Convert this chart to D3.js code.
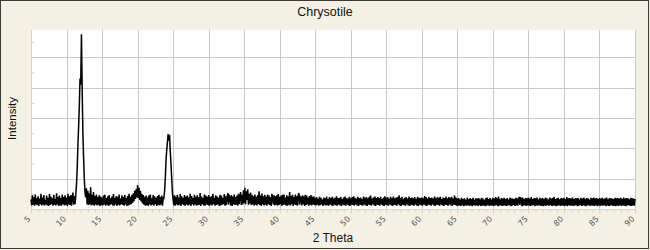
<!DOCTYPE html>
<html>
<head>
<meta charset="utf-8">
<script src="https://cdn.jsdelivr.net/npm/d3@7"></script>
<style>
  body { margin: 0; background: #f4f1e4; }
  svg { display: block; }
</style>
</head>
<body>
<div id="chart"></div>
<script>
// scan: 5.0 to 90.0 deg 2theta, step 0.1, counts
let scanStart = 5, scanStep = 0.1

let c05 = [
  320, 120, 450, 140, 390, 110, 480, 150, 360, 130,
  420, 100, 340, 160, 500, 120, 380, 140, 460, 110,
  300, 150, 440, 120, 370, 100, 490, 130, 410, 160,
  350, 110, 470, 140, 330, 120, 520, 150, 400, 100,
  440, 130, 360, 110, 480, 160, 390, 120, 450, 140,
  370, 100, 500, 150, 420, 130, 460, 110, 380, 540,
  140, 430, 160, 450, 800, 1300, 2100, 2700, 3400, 4300,
  4100, 5760, 4000, 2500, 1700, 1000, 550, 380, 680, 150,
  600, 130, 520, 160, 720, 120, 470, 140, 560, 110,
  430, 150, 480, 120, 390, 140, 450, 100, 410, 130]
let c15 = [
  380, 120, 440, 150, 470, 110, 360, 140, 420, 100,
  460, 130, 350, 160, 410, 120, 490, 110, 370, 150,
  430, 100, 400, 140, 480, 120, 340, 160, 450, 130,
  390, 110, 460, 150, 360, 100, 430, 120, 500, 140,
  400, 160, 470, 200, 520, 260, 600, 330, 650, 380,
  790, 360, 700, 300, 600, 250, 500, 180, 460, 140,
  400, 110, 440, 130, 380, 100, 450, 150, 480, 120,
  350, 140, 460, 110, 410, 160, 370, 100, 430, 130,
  470, 120, 390, 150, 440, 110, 360, 350, 600, 1000,
  1600, 1950, 2200, 2470, 2250, 2450, 1900, 1500, 1000, 550]
let c25 = [
  300, 130, 450, 110, 400, 150, 470, 120, 380, 140,
  490, 100, 420, 160, 370, 130, 460, 110, 410, 150,
  440, 120, 380, 140, 500, 100, 430, 160, 360, 120,
  470, 150, 400, 110, 450, 130, 390, 140, 530, 100,
  420, 160, 360, 120, 480, 110, 440, 150, 400, 130,
  460, 100, 390, 140, 430, 120, 500, 160, 370, 110,
  450, 130, 410, 150, 380, 100, 470, 120, 440, 140,
  360, 160, 490, 110, 420, 130, 400, 520, 150, 430,
  380, 120, 460, 100, 410, 150, 480, 130, 390, 140,
  440, 110, 500, 160, 420, 560, 130, 470, 150, 620]
let c35 = [
  200, 700, 160, 580, 300, 650, 140, 500, 180, 540,
  130, 470, 150, 420, 110, 480, 140, 400, 120, 450,
  160, 580, 130, 440, 100, 510, 150, 420, 120, 470,
  140, 410, 110, 480, 160, 440, 130, 390, 100, 500,
  360, 150, 460, 120, 420, 140, 450, 110, 490, 130,
  400, 160, 440, 100, 470, 130, 480, 150, 380, 120,
  450, 110, 410, 140, 560, 120, 430, 160, 470, 100,
  390, 150, 480, 130, 420, 110, 460, 530, 140, 400,
  370, 120, 450, 160, 410, 100, 470, 130, 440, 150,
  380, 110, 430, 140, 460, 120, 400, 150, 420, 130]
let c45 = [
  360, 120, 390, 140, 340, 110, 400, 130, 370, 150,
  310, 100, 380, 140, 350, 120, 410, 130, 330, 110,
  390, 150, 360, 120, 400, 100, 340, 140, 380, 130,
  420, 110, 350, 150, 370, 120, 390, 100, 330, 140,
  380, 130, 410, 110, 360, 150, 340, 120, 400, 100,
  350, 140, 390, 130, 420, 110, 370, 150, 340, 120,
  400, 100, 360, 140, 380, 130, 330, 110, 410, 150,
  370, 120, 390, 100, 350, 140, 400, 130, 440, 110,
  340, 150, 380, 120, 410, 100, 360, 140, 390, 130,
  350, 110, 400, 150, 330, 120, 380, 100, 420, 140]
let c55 = [
  370, 130, 390, 110, 340, 150, 400, 120, 360, 100,
  410, 140, 350, 130, 380, 110, 390, 150, 450, 120,
  360, 100, 400, 140, 330, 130, 370, 110, 390, 150,
  340, 120, 410, 100, 360, 140, 380, 130, 350, 110,
  390, 150, 330, 120, 400, 100, 370, 140, 360, 130,
  380, 110, 350, 150, 430, 120, 390, 100, 340, 140,
  400, 130, 360, 110, 380, 150, 340, 120, 410, 100,
  350, 140, 390, 130, 370, 110, 400, 150, 330, 120,
  380, 100, 360, 140, 410, 130, 350, 110, 390, 150,
  370, 120, 400, 100, 340, 140, 440, 130, 380, 110]
let c65 = [
  340, 110, 360, 120, 310, 100, 370, 130, 330, 90,
  350, 120, 300, 110, 380, 130, 320, 100, 360, 120,
  330, 90, 370, 130, 310, 110, 350, 120, 340, 100,
  360, 130, 320, 100, 370, 110, 340, 120, 300, 90,
  350, 110, 380, 130, 330, 100, 360, 120, 310, 110,
  370, 100, 340, 120, 390, 130, 350, 90, 410, 110,
  320, 130, 360, 100, 340, 110, 370, 120, 330, 100,
  360, 120, 310, 130, 380, 90, 350, 110, 340, 130,
  330, 100, 370, 120, 350, 110, 320, 400, 130, 360,
  340, 90, 380, 110, 330, 130, 360, 100, 350, 120]
let c75 = [
  370, 110, 340, 100, 390, 120, 330, 130, 360, 90,
  350, 120, 380, 110, 320, 130, 370, 100, 340, 110,
  360, 90, 330, 120, 380, 100, 350, 130, 310, 110,
  380, 130, 340, 100, 360, 110, 400, 120, 330, 90,
  350, 110, 370, 130, 320, 100, 360, 120, 340, 110,
  370, 100, 330, 120, 390, 90, 350, 130, 360, 110,
  340, 120, 380, 100, 330, 110, 360, 130, 350, 90,
  360, 110, 320, 130, 370, 100, 340, 120, 380, 110,
  330, 90, 360, 120, 350, 130, 310, 100, 370, 120,
  350, 110, 380, 100, 340, 130, 360, 90, 330, 120]
let c85 = [
  360, 100, 340, 120, 370, 110, 330, 130, 350, 90,
  380, 120, 320, 100, 360, 110, 350, 130, 340, 100,
  330, 110, 370, 90, 350, 120, 360, 100, 340, 130,
  370, 100, 330, 120, 380, 110, 340, 90, 360, 120,
  350, 130, 320, 110, 370, 100, 350, 120, 340, 110,
  330]

let xTicks = d3.range(5, 91, 1)
let yGrid = [1000, 2000, 3000, 4000, 5000]
let yMinor = [500, 1500, 2500, 3500, 4500, 5500]

let counts = [].concat(c05, c15, c25, c35, c45, c55, c65, c75, c85)
let scan = counts.map((c, i) => ({ angle: +(scanStart + i * scanStep).toFixed(1), counts: c }))

let w = 650,
    h = 250,
    pL = 31, pR = 635, pT = 30, pB = 209

let svg = d3.select('#chart')
    .append('svg')
    .attr('width', w)
    .attr('height', h)

svg.append('rect')
    .attr('x', 0.5).attr('y', 0.5)
    .attr('width', w - 2).attr('height', h - 2)
    .attr('fill', '#f4f1e4')
    .attr('stroke', '#3a3a33')
    .attr('stroke-width', 1)

let xScale = d3.scaleLinear().domain([5, 90]).range([pL, pR])
let yScale = d3.scaleLinear().domain([0, 5900]).range([pB, pT])

svg.append('rect')
    .attr('x', pL).attr('y', pT)
    .attr('width', pR - pL).attr('height', pB - pT)
    .attr('fill', '#fff')

// grid
svg.append('g')
    .selectAll('line')
    .data(xTicks.filter(d => d % 5 === 0 && d > 5))
    .enter()
    .append('line')
    .attr('x1', d => Math.round(xScale(d)) + 0.5)
    .attr('x2', d => Math.round(xScale(d)) + 0.5)
    .attr('y1', pT)
    .attr('y2', pB)
    .attr('stroke', '#c8c8c8')
svg.append('g')
    .selectAll('line')
    .data(yGrid)
    .enter()
    .append('line')
    .attr('x1', pL)
    .attr('x2', pR)
    .attr('y1', d => Math.round(yScale(d)) + 0.5)
    .attr('y2', d => Math.round(yScale(d)) + 0.5)
    .attr('stroke', '#c8c8c8')

// y axis: no labels, minor ticks pointing inward
let yAxis = d3.axisRight(yScale)
    .tickValues(yMinor)
    .tickSize(3)
    .tickFormat('')
let yg = svg.append('g')
    .attr('transform', `translate(${pL + 0.5},0)`)
    .call(yAxis)
yg.select('.domain').attr('stroke', '#ddd59c').attr('d', `M0,${pT}V${pB}`)
yg.selectAll('.tick line').attr('stroke', '#ddd59c')

// the scan
let line = d3.line()
    .x(d => xScale(d.angle))
    .y(d => yScale(d.counts))

svg.append('path')
    .attr('d', line(scan))
    .attr('fill', 'none')
    .attr('stroke', '#000')
    .attr('stroke-width', 1.5)

// x axis
let xAxis = d3.axisBottom(xScale)
    .tickValues(xTicks)
    .tickSize(3)
    .tickFormat(d => d % 5 === 0 ? d : '')
let xg = svg.append('g')
    .attr('transform', `translate(0,${pB + 0.5})`)
    .call(xAxis)
xg.select('.domain').attr('stroke', '#ddd59c').attr('d', `M${pL},0H${pR}`)
xg.selectAll('.tick line')
    .attr('stroke', '#ddd59c')
    .attr('y2', d => d % 5 === 0 ? 4 : 3)
xg.selectAll('.tick text')
    .attr('y', 0)
    .attr('dy', '0.35em')
    .attr('text-anchor', 'end')
    .attr('transform', 'translate(-2.5,8) rotate(-45)')
    .attr('fill', '#555')
    .attr('font-size', 8)
    .attr('font-family', 'DejaVu Sans, sans-serif')

svg.append('text')
    .text('Chrysotile')
    .attr('x', 325).attr('y', 16)
    .attr('text-anchor', 'middle')
    .attr('font-family', 'Liberation Sans, Arial, sans-serif')
    .attr('font-size', 12.5)
    .attr('fill', '#111')

svg.append('text')
    .text('2 Theta')
    .attr('x', (pL + pR) / 2).attr('y', 242)
    .attr('text-anchor', 'middle')
    .attr('font-family', 'Liberation Sans, Arial, sans-serif')
    .attr('font-size', 12)
    .attr('fill', '#111')

svg.append('text')
    .text('Intensity')
    .attr('transform', `translate(16,${(pT + pB) / 2 - 1}) rotate(-90)`)
    .attr('text-anchor', 'middle')
    .attr('font-family', 'Liberation Sans, Arial, sans-serif')
    .attr('font-size', 11.5)
    .attr('fill', '#111')
</script>
</body>
</html>
